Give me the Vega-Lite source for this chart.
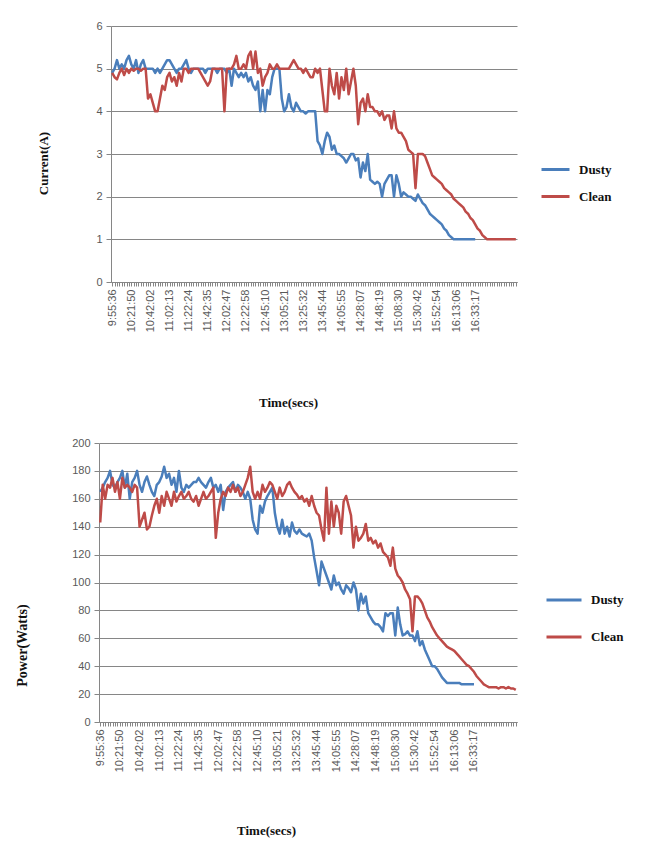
{
"$schema": "https://vega.github.io/schema/vega-lite/v6.json",
"background": "white",
"padding": {"left": 15, "top": 20, "right": 5, "bottom": 5},
"config": {
  "view": {"stroke": null},
  "font": "Liberation Sans",
  "axis": {"labelFont": "Liberation Sans", "labelColor": "#595959", "titleFont": "Liberation Serif", "titleFontWeight": "bold", "titleColor": "#111111", "domainColor": "#868686", "tickColor": "#868686", "gridColor": "#868686", "gridWidth": 1, "domainWidth": 1},
  "legend": {"labelFont": "Liberation Serif", "labelFontWeight": "bold", "labelColor": "#111111", "labelFontSize": 13, "symbolType": "stroke", "symbolStrokeWidth": 3, "padding": 0, "labelOffset": 8}
},
"datasets": {
"cur": [
{"t":"9:55:36","Dusty":4.9,"Clean":4.9},{"t":"9:58:53","Dusty":5.0,"Clean":4.8},{"t":"10:02:10","Dusty":5.2,"Clean":4.75},{"t":"10:05:26","Dusty":5.0,"Clean":4.9},{"t":"10:08:43","Dusty":5.1,"Clean":5.0},{"t":"10:12:00","Dusty":5.0,"Clean":4.85},{"t":"10:15:17","Dusty":5.2,"Clean":5.0},{"t":"10:18:33","Dusty":5.3,"Clean":4.9},{"t":"10:21:50","Dusty":5.1,"Clean":5.0},{"t":"10:24:21","Dusty":5.0,"Clean":4.95},
{"t":"10:26:53","Dusty":5.2,"Clean":5.0},{"t":"10:29:24","Dusty":4.9,"Clean":5.0},{"t":"10:31:56","Dusty":5.1,"Clean":4.95},{"t":"10:34:27","Dusty":5.2,"Clean":5.0},{"t":"10:36:58","Dusty":5.0,"Clean":5.0},{"t":"10:39:30","Dusty":5.0,"Clean":4.3},{"t":"10:42:02","Dusty":5.0,"Clean":4.4},{"t":"10:44:33","Dusty":5.0,"Clean":4.2},{"t":"10:47:05","Dusty":4.9,"Clean":4.0},{"t":"10:49:36","Dusty":5.0,"Clean":4.0},
{"t":"10:52:08","Dusty":4.9,"Clean":4.3},{"t":"10:54:39","Dusty":5.0,"Clean":4.6},{"t":"10:57:10","Dusty":5.1,"Clean":4.5},{"t":"10:59:42","Dusty":5.2,"Clean":4.8},{"t":"11:02:13","Dusty":5.2,"Clean":4.9},{"t":"11:04:44","Dusty":5.1,"Clean":4.7},{"t":"11:07:16","Dusty":5.0,"Clean":4.8},{"t":"11:09:47","Dusty":4.9,"Clean":4.6},{"t":"11:12:19","Dusty":5.0,"Clean":4.9},{"t":"11:14:50","Dusty":5.0,"Clean":4.7},
{"t":"11:17:21","Dusty":5.1,"Clean":5.0},{"t":"11:19:53","Dusty":5.2,"Clean":5.0},{"t":"11:22:24","Dusty":5.0,"Clean":4.9},{"t":"11:24:55","Dusty":4.9,"Clean":5.0},{"t":"11:27:27","Dusty":5.0,"Clean":5.0},{"t":"11:29:58","Dusty":5.0,"Clean":5.0},{"t":"11:32:30","Dusty":5.0,"Clean":5.0},{"t":"11:35:01","Dusty":5.0,"Clean":4.9},{"t":"11:37:32","Dusty":5.0,"Clean":4.8},{"t":"11:40:04","Dusty":4.9,"Clean":4.7},
{"t":"11:42:35","Dusty":5.0,"Clean":4.6},{"t":"11:45:06","Dusty":5.0,"Clean":4.7},{"t":"11:47:38","Dusty":5.0,"Clean":5.0},{"t":"11:50:09","Dusty":5.0,"Clean":5.0},{"t":"11:52:41","Dusty":4.9,"Clean":5.0},{"t":"11:55:12","Dusty":5.0,"Clean":5.0},{"t":"11:57:43","Dusty":5.0,"Clean":5.0},{"t":"12:00:15","Dusty":5.0,"Clean":4.0},{"t":"12:02:47","Dusty":4.9,"Clean":5.0},{"t":"12:05:18","Dusty":5.0,"Clean":5.0},
{"t":"12:07:50","Dusty":4.6,"Clean":5.0},{"t":"12:10:21","Dusty":5.0,"Clean":5.1},{"t":"12:12:53","Dusty":4.9,"Clean":5.3},{"t":"12:15:24","Dusty":4.8,"Clean":5.0},{"t":"12:17:55","Dusty":4.9,"Clean":5.0},{"t":"12:20:27","Dusty":4.8,"Clean":5.1},{"t":"12:22:58","Dusty":4.9,"Clean":5.0},{"t":"12:25:44","Dusty":4.7,"Clean":5.3},{"t":"12:28:31","Dusty":4.8,"Clean":5.4},{"t":"12:31:17","Dusty":4.6,"Clean":5.0},
{"t":"12:34:04","Dusty":4.5,"Clean":5.4},{"t":"12:36:50","Dusty":4.7,"Clean":4.9},{"t":"12:39:37","Dusty":4.0,"Clean":5.0},{"t":"12:42:23","Dusty":4.5,"Clean":4.6},{"t":"12:45:10","Dusty":4.0,"Clean":4.8},{"t":"12:47:41","Dusty":4.5,"Clean":4.9},{"t":"12:50:13","Dusty":4.4,"Clean":5.1},{"t":"12:52:44","Dusty":4.8,"Clean":5.0},{"t":"12:55:16","Dusty":5.0,"Clean":5.0},{"t":"12:57:47","Dusty":5.0,"Clean":5.1},
{"t":"13:00:18","Dusty":5.0,"Clean":5.0},{"t":"13:02:50","Dusty":4.3,"Clean":5.0},{"t":"13:05:21","Dusty":4.0,"Clean":5.0},{"t":"13:07:52","Dusty":4.1,"Clean":5.0},{"t":"13:10:24","Dusty":4.4,"Clean":5.0},{"t":"13:12:55","Dusty":4.1,"Clean":5.1},{"t":"13:15:27","Dusty":4.0,"Clean":5.2},{"t":"13:17:58","Dusty":4.2,"Clean":5.1},{"t":"13:20:29","Dusty":4.1,"Clean":5.0},{"t":"13:23:01","Dusty":4.0,"Clean":5.0},
{"t":"13:25:32","Dusty":4.0,"Clean":4.9},{"t":"13:28:03","Dusty":3.95,"Clean":5.0},{"t":"13:30:35","Dusty":4.0,"Clean":4.9},{"t":"13:33:06","Dusty":4.0,"Clean":4.8},{"t":"13:35:38","Dusty":4.0,"Clean":4.8},{"t":"13:38:09","Dusty":4.0,"Clean":5.0},{"t":"13:40:40","Dusty":3.3,"Clean":4.9},{"t":"13:43:12","Dusty":3.2,"Clean":5.0},{"t":"13:45:44","Dusty":3.0,"Clean":4.5},{"t":"13:48:15","Dusty":3.3,"Clean":4.0},
{"t":"13:50:47","Dusty":3.5,"Clean":4.0},{"t":"13:53:18","Dusty":3.4,"Clean":5.0},{"t":"13:55:50","Dusty":3.1,"Clean":4.6},{"t":"13:58:21","Dusty":3.2,"Clean":4.4},{"t":"14:00:52","Dusty":3.0,"Clean":4.9},{"t":"14:03:24","Dusty":3.0,"Clean":4.3},{"t":"14:05:55","Dusty":2.95,"Clean":4.8},{"t":"14:08:41","Dusty":2.9,"Clean":4.5},{"t":"14:11:28","Dusty":2.8,"Clean":5.0},{"t":"14:14:14","Dusty":2.9,"Clean":4.4},
{"t":"14:17:01","Dusty":3.0,"Clean":4.7},{"t":"14:19:47","Dusty":3.0,"Clean":5.0},{"t":"14:22:34","Dusty":2.85,"Clean":4.6},{"t":"14:25:20","Dusty":2.9,"Clean":3.7},{"t":"14:28:07","Dusty":2.45,"Clean":4.2},{"t":"14:30:38","Dusty":2.8,"Clean":4.3},{"t":"14:33:10","Dusty":2.6,"Clean":4.0},{"t":"14:35:41","Dusty":3.0,"Clean":4.4},{"t":"14:38:13","Dusty":2.4,"Clean":4.1},{"t":"14:40:44","Dusty":2.35,"Clean":4.1},
{"t":"14:43:15","Dusty":2.3,"Clean":4.0},{"t":"14:45:47","Dusty":2.35,"Clean":4.0},{"t":"14:48:19","Dusty":2.3,"Clean":3.9},{"t":"14:50:50","Dusty":2.0,"Clean":4.0},{"t":"14:53:22","Dusty":2.3,"Clean":3.8},{"t":"14:55:53","Dusty":2.4,"Clean":3.9},{"t":"14:58:25","Dusty":2.5,"Clean":3.9},{"t":"15:00:56","Dusty":2.5,"Clean":3.6},{"t":"15:03:27","Dusty":2.0,"Clean":4.0},{"t":"15:05:59","Dusty":2.5,"Clean":3.6},
{"t":"15:08:30","Dusty":2.3,"Clean":3.5},{"t":"15:11:16","Dusty":2.0,"Clean":3.5},{"t":"15:14:03","Dusty":2.1,"Clean":3.4},{"t":"15:16:49","Dusty":2.05,"Clean":3.3},{"t":"15:19:36","Dusty":2.0,"Clean":3.1},{"t":"15:22:22","Dusty":2.0,"Clean":3.05},{"t":"15:25:09","Dusty":1.95,"Clean":3.0},{"t":"15:27:55","Dusty":1.9,"Clean":2.2},{"t":"15:30:42","Dusty":2.05,"Clean":3.0},{"t":"15:33:28","Dusty":1.95,"Clean":3.0},
{"t":"15:36:15","Dusty":1.85,"Clean":3.0},{"t":"15:39:01","Dusty":1.8,"Clean":2.95},{"t":"15:41:48","Dusty":1.7,"Clean":2.8},{"t":"15:44:34","Dusty":1.6,"Clean":2.65},{"t":"15:47:21","Dusty":1.55,"Clean":2.5},{"t":"15:50:07","Dusty":1.5,"Clean":2.45},{"t":"15:52:54","Dusty":1.45,"Clean":2.4},{"t":"15:55:25","Dusty":1.4,"Clean":2.35},{"t":"15:57:57","Dusty":1.35,"Clean":2.3},{"t":"16:00:28","Dusty":1.25,"Clean":2.2},
{"t":"16:03:00","Dusty":1.2,"Clean":2.15},{"t":"16:05:31","Dusty":1.1,"Clean":2.1},{"t":"16:08:02","Dusty":1.05,"Clean":2.05},{"t":"16:10:34","Dusty":1.0,"Clean":1.95},{"t":"16:13:06","Dusty":1.0,"Clean":1.9},{"t":"16:15:37","Dusty":1.0,"Clean":1.85},{"t":"16:18:09","Dusty":1.0,"Clean":1.8},{"t":"16:20:40","Dusty":1.0,"Clean":1.75},{"t":"16:23:12","Dusty":1.0,"Clean":1.65},{"t":"16:25:43","Dusty":1.0,"Clean":1.6},
{"t":"16:28:14","Dusty":1.0,"Clean":1.5},{"t":"16:30:46","Dusty":1.0,"Clean":1.45},{"t":"16:33:17","Dusty":1.0,"Clean":1.35},{"t":"16:35:48","Clean":1.25},{"t":"16:38:20","Clean":1.2},{"t":"16:40:51","Clean":1.1},{"t":"16:43:23","Clean":1.05},{"t":"16:45:54","Clean":1.0},{"t":"16:48:25","Clean":1.0},{"t":"16:50:57","Clean":1.0},
{"t":"16:53:28","Clean":1.0},{"t":"16:56:00","Clean":1.0},{"t":"16:58:31","Clean":1.0},{"t":"17:01:03","Clean":1.0},{"t":"17:03:34","Clean":1.0},{"t":"17:06:05","Clean":1.0},{"t":"17:08:37","Clean":1.0},{"t":"17:11:08","Clean":1.0},{"t":"17:13:40","Clean":1.0},{"t":"17:16:11","Clean":1.0}
],
"pow": [
{"t":"9:55:36","Dusty":165,"Clean":143},{"t":"9:58:53","Dusty":168,"Clean":170},{"t":"10:02:10","Dusty":172,"Clean":160},{"t":"10:05:26","Dusty":175,"Clean":170},{"t":"10:08:43","Dusty":180,"Clean":168},{"t":"10:12:00","Dusty":170,"Clean":175},{"t":"10:15:17","Dusty":168,"Clean":165},{"t":"10:18:33","Dusty":172,"Clean":172},{"t":"10:21:50","Dusty":175,"Clean":160},{"t":"10:24:21","Dusty":180,"Clean":175},
{"t":"10:26:53","Dusty":168,"Clean":168},{"t":"10:29:24","Dusty":178,"Clean":170},{"t":"10:31:56","Dusty":160,"Clean":168},{"t":"10:34:27","Dusty":172,"Clean":165},{"t":"10:36:58","Dusty":175,"Clean":170},{"t":"10:39:30","Dusty":180,"Clean":168},{"t":"10:42:02","Dusty":170,"Clean":140},{"t":"10:44:33","Dusty":165,"Clean":145},{"t":"10:47:05","Dusty":172,"Clean":150},{"t":"10:49:36","Dusty":176,"Clean":138},
{"t":"10:52:08","Dusty":170,"Clean":140},{"t":"10:54:39","Dusty":165,"Clean":148},{"t":"10:57:10","Dusty":162,"Clean":155},{"t":"10:59:42","Dusty":170,"Clean":160},{"t":"11:02:13","Dusty":172,"Clean":150},{"t":"11:04:44","Dusty":176,"Clean":162},{"t":"11:07:16","Dusty":183,"Clean":155},{"t":"11:09:47","Dusty":175,"Clean":165},{"t":"11:12:19","Dusty":178,"Clean":160},{"t":"11:14:50","Dusty":170,"Clean":155},
{"t":"11:17:21","Dusty":175,"Clean":165},{"t":"11:19:53","Dusty":165,"Clean":158},{"t":"11:22:24","Dusty":180,"Clean":162},{"t":"11:24:55","Dusty":168,"Clean":165},{"t":"11:27:27","Dusty":165,"Clean":160},{"t":"11:29:58","Dusty":170,"Clean":162},{"t":"11:32:30","Dusty":168,"Clean":165},{"t":"11:35:01","Dusty":170,"Clean":160},{"t":"11:37:32","Dusty":172,"Clean":158},{"t":"11:40:04","Dusty":172,"Clean":162},
{"t":"11:42:35","Dusty":175,"Clean":155},{"t":"11:45:06","Dusty":172,"Clean":160},{"t":"11:47:38","Dusty":170,"Clean":165},{"t":"11:50:09","Dusty":168,"Clean":160},{"t":"11:52:41","Dusty":172,"Clean":162},{"t":"11:55:12","Dusty":175,"Clean":165},{"t":"11:57:43","Dusty":168,"Clean":168},{"t":"12:00:15","Dusty":170,"Clean":132},{"t":"12:02:47","Dusty":165,"Clean":150},{"t":"12:05:18","Dusty":170,"Clean":160},
{"t":"12:07:50","Dusty":152,"Clean":165},{"t":"12:10:21","Dusty":165,"Clean":162},{"t":"12:12:53","Dusty":168,"Clean":168},{"t":"12:15:24","Dusty":170,"Clean":165},{"t":"12:17:55","Dusty":172,"Clean":170},{"t":"12:20:27","Dusty":165,"Clean":165},{"t":"12:22:58","Dusty":170,"Clean":168},{"t":"12:25:44","Dusty":168,"Clean":162},{"t":"12:28:31","Dusty":165,"Clean":165},{"t":"12:31:17","Dusty":160,"Clean":170},
{"t":"12:34:04","Dusty":165,"Clean":175},{"t":"12:36:50","Dusty":160,"Clean":183},{"t":"12:39:37","Dusty":145,"Clean":165},{"t":"12:42:23","Dusty":138,"Clean":160},{"t":"12:45:10","Dusty":135,"Clean":165},{"t":"12:47:41","Dusty":155,"Clean":160},{"t":"12:50:13","Dusty":150,"Clean":170},{"t":"12:52:44","Dusty":158,"Clean":165},{"t":"12:55:16","Dusty":162,"Clean":168},{"t":"12:57:47","Dusty":165,"Clean":172},
{"t":"13:00:18","Dusty":168,"Clean":170},{"t":"13:02:50","Dusty":150,"Clean":165},{"t":"13:05:21","Dusty":140,"Clean":160},{"t":"13:07:52","Dusty":135,"Clean":168},{"t":"13:10:24","Dusty":145,"Clean":162},{"t":"13:12:55","Dusty":135,"Clean":165},{"t":"13:15:27","Dusty":140,"Clean":170},{"t":"13:17:58","Dusty":133,"Clean":172},{"t":"13:20:29","Dusty":143,"Clean":168},{"t":"13:23:01","Dusty":137,"Clean":165},
{"t":"13:25:32","Dusty":135,"Clean":163},{"t":"13:28:03","Dusty":138,"Clean":160},{"t":"13:30:35","Dusty":135,"Clean":162},{"t":"13:33:06","Dusty":134,"Clean":158},{"t":"13:35:38","Dusty":133,"Clean":160},{"t":"13:38:09","Dusty":135,"Clean":155},{"t":"13:40:40","Dusty":130,"Clean":162},{"t":"13:43:12","Dusty":118,"Clean":155},{"t":"13:45:44","Dusty":108,"Clean":150},{"t":"13:48:15","Dusty":98,"Clean":148},
{"t":"13:50:47","Dusty":115,"Clean":138},{"t":"13:53:18","Dusty":110,"Clean":130},{"t":"13:55:50","Dusty":105,"Clean":168},{"t":"13:58:21","Dusty":100,"Clean":135},{"t":"14:00:52","Dusty":95,"Clean":158},{"t":"14:03:24","Dusty":105,"Clean":140},{"t":"14:05:55","Dusty":98,"Clean":155},{"t":"14:08:41","Dusty":100,"Clean":150},{"t":"14:11:28","Dusty":95,"Clean":135},{"t":"14:14:14","Dusty":92,"Clean":158},
{"t":"14:17:01","Dusty":98,"Clean":162},{"t":"14:19:47","Dusty":96,"Clean":155},{"t":"14:22:34","Dusty":93,"Clean":148},{"t":"14:25:20","Dusty":100,"Clean":125},{"t":"14:28:07","Dusty":95,"Clean":140},{"t":"14:30:38","Dusty":80,"Clean":130},{"t":"14:33:10","Dusty":92,"Clean":132},{"t":"14:35:41","Dusty":85,"Clean":135},{"t":"14:38:13","Dusty":90,"Clean":142},{"t":"14:40:44","Dusty":78,"Clean":130},
{"t":"14:43:15","Dusty":75,"Clean":132},{"t":"14:45:47","Dusty":72,"Clean":128},{"t":"14:48:19","Dusty":70,"Clean":130},{"t":"14:50:50","Dusty":70,"Clean":125},{"t":"14:53:22","Dusty":68,"Clean":128},{"t":"14:55:53","Dusty":65,"Clean":122},{"t":"14:58:25","Dusty":78,"Clean":120},{"t":"15:00:56","Dusty":76,"Clean":118},{"t":"15:03:27","Dusty":78,"Clean":112},{"t":"15:05:59","Dusty":78,"Clean":125},
{"t":"15:08:30","Dusty":62,"Clean":110},{"t":"15:11:16","Dusty":82,"Clean":105},{"t":"15:14:03","Dusty":70,"Clean":103},{"t":"15:16:49","Dusty":62,"Clean":100},{"t":"15:19:36","Dusty":63,"Clean":95},{"t":"15:22:22","Dusty":65,"Clean":92},{"t":"15:25:09","Dusty":62,"Clean":88},{"t":"15:27:55","Dusty":62,"Clean":65},{"t":"15:30:42","Dusty":58,"Clean":90},{"t":"15:33:28","Dusty":65,"Clean":90},
{"t":"15:36:15","Dusty":55,"Clean":88},{"t":"15:39:01","Dusty":58,"Clean":85},{"t":"15:41:48","Dusty":52,"Clean":80},{"t":"15:44:34","Dusty":48,"Clean":75},{"t":"15:47:21","Dusty":44,"Clean":72},{"t":"15:50:07","Dusty":40,"Clean":68},{"t":"15:52:54","Dusty":40,"Clean":65},{"t":"15:55:25","Dusty":38,"Clean":62},{"t":"15:57:57","Dusty":35,"Clean":60},{"t":"16:00:28","Dusty":32,"Clean":58},
{"t":"16:03:00","Dusty":30,"Clean":56},{"t":"16:05:31","Dusty":28,"Clean":54},{"t":"16:08:02","Dusty":28,"Clean":53},{"t":"16:10:34","Dusty":28,"Clean":52},{"t":"16:13:06","Dusty":28,"Clean":51},{"t":"16:15:37","Dusty":28,"Clean":49},{"t":"16:18:09","Dusty":28,"Clean":47},{"t":"16:20:40","Dusty":27,"Clean":45},{"t":"16:23:12","Dusty":27,"Clean":43},{"t":"16:25:43","Dusty":27,"Clean":41},
{"t":"16:28:14","Dusty":27,"Clean":40},{"t":"16:30:46","Dusty":27,"Clean":38},{"t":"16:33:17","Dusty":27,"Clean":36},{"t":"16:35:48","Clean":33},{"t":"16:38:20","Clean":31},{"t":"16:40:51","Clean":29},{"t":"16:43:23","Clean":27},{"t":"16:45:54","Clean":26},{"t":"16:48:25","Clean":25},{"t":"16:50:57","Clean":25},
{"t":"16:53:28","Clean":25},{"t":"16:56:00","Clean":25},{"t":"16:58:31","Clean":24},{"t":"17:01:03","Clean":25},{"t":"17:03:34","Clean":25},{"t":"17:06:05","Clean":24},{"t":"17:08:37","Clean":25},{"t":"17:11:08","Clean":24},{"t":"17:13:40","Clean":24},{"t":"17:16:11","Clean":23}
]
},
"bounds": "flush",
"spacing": 417,
"resolve": {"scale": {"color": "independent"}, "legend": {"color": "independent"}},
"vconcat": [
 {
  "bounds": "flush",
  "spacing": 0,
  "hconcat": [
   {"width": 12, "height": 10, "data": {"values": [{}]}, "mark": {"type": "point", "opacity": 0}, "encoding": {}},
   {
    "width": 406, "height": 256,
    "data": {"name": "cur"},
    "transform": [{"fold": ["Dusty", "Clean"], "as": ["series", "value"]}],
    "mark": {"type": "line", "strokeWidth": 2.5, "strokeJoin": "round"},
    "encoding": {
     "x": {"field": "t", "type": "ordinal", "sort": null, "scale": {"type": "point"},
       "axis": {"title": "Time(secs)", "titleFontSize": 13, "titleX": 177, "titleY": 120, "titleBaseline": "middle", "titleAlign": "center",
         "labelAngle": -90, "labelFontSize": 11, "labelPadding": 3, "labelOverlap": false, "tickSize": 4, "grid": false,
         "labelExpr": "(round(datum.index*169) % 8 == 0 && round(datum.index*169) <= 152) ? datum.label : ''"}},
     "y": {"field": "value", "type": "quantitative", "scale": {"domain": [0, 6], "nice": false},
       "axis": {"title": "Current(A)", "titleFontSize": 13, "titleAngle": -90, "titleX": -68, "titleY": 137, "titleBaseline": "middle", "titleAlign": "center",
         "values": [0, 1, 2, 3, 4, 5, 6], "grid": true, "tickSize": 5, "labelFontSize": 11, "labelPadding": 4}},
     "color": {"field": "series", "type": "nominal",
       "scale": {"domain": ["Dusty", "Clean"], "range": ["#4A7EBB", "#BE4B48"]},
       "legend": {"title": null, "orient": "none", "legendX": 441, "legendY": 128, "symbolSize": 784, "rowPadding": 4}}
    }
   }
  ]
 },
 {
  "width": 418, "height": 279,
  "data": {"name": "pow"},
  "transform": [{"fold": ["Dusty", "Clean"], "as": ["series", "value"]}],
  "mark": {"type": "line", "strokeWidth": 2.5, "strokeJoin": "round"},
  "encoding": {
   "x": {"field": "t", "type": "ordinal", "sort": null, "scale": {"type": "point"},
     "axis": {"title": "Time(secs)", "titleFontSize": 13, "titleX": 167, "titleY": 108, "titleBaseline": "middle", "titleAlign": "center",
       "labelAngle": -90, "labelFontSize": 11, "labelPadding": 3, "labelOverlap": false, "tickSize": 4, "grid": false,
       "labelExpr": "(round(datum.index*169) % 8 == 0 && round(datum.index*169) <= 152) ? datum.label : ''"}},
   "y": {"field": "value", "type": "quantitative", "scale": {"domain": [0, 200], "nice": false},
     "axis": {"title": "Power(Watts)", "titleFontSize": 14, "titleAngle": -90, "titleX": -77, "titleY": 202, "titleBaseline": "middle", "titleAlign": "center",
       "values": [0, 20, 40, 60, 80, 100, 120, 140, 160, 180, 200], "grid": true, "tickSize": 5, "labelFontSize": 11, "labelPadding": 4}},
   "color": {"field": "series", "type": "nominal",
     "scale": {"domain": ["Dusty", "Clean"], "range": ["#4A7EBB", "#BE4B48"]},
     "legend": {"title": null, "orient": "none", "legendX": 446, "legendY": 138, "symbolSize": 1225, "rowPadding": 11}}
  }
 }
]
}
